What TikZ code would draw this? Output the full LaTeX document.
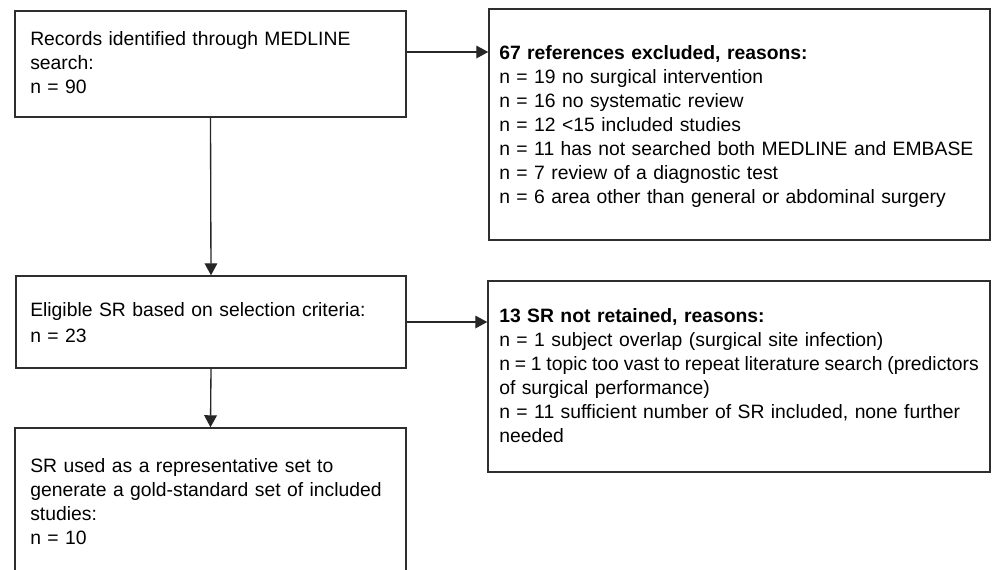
\documentclass[tikz,border=0pt]{standalone}
\usepackage{fontspec}
\setmainfont{Liberation Sans}
\usetikzlibrary{arrows.meta}
\begin{document}
\begin{tikzpicture}[x=0.75pt,y=-0.75pt,
  box/.style={draw=black!82, line width=1.1pt, rectangle, inner sep=0pt},
  txt/.style={anchor=base west, inner sep=0pt, text width=420pt, align=left,
    font=\fontsize{14.5pt}{18pt}\selectfont},
  arr/.style={draw=black!85, line width=1pt, -{Triangle[length=9pt,width=9.5pt]}}]
\useasboundingbox (0,0) rectangle (997,569);
\clip (0,0) rectangle (997,569);
% boxes
\node[box, minimum width=293.25pt, minimum height=79.5pt] (A) at (210.5,64) {};
\node[box, minimum width=375.75pt, minimum height=173.25pt] (B) at (739.5,124.5) {};
\node[box, minimum width=292.5pt, minimum height=69pt] (C) at (211,322) {};
\node[box, minimum width=376.5pt, minimum height=143.25pt] (D) at (739,376.5) {};
\node[box, minimum width=293.25pt, minimum height=150pt] (E) at (210.5,528) {};
% texts
\node[txt] (At) at (30,45) {Records identified through MEDLINE\\search:\\n = 90};
\node[txt] (Bt) at (499,59) {\textbf{67 references excluded, reasons:}\\
n = 19 no surgical intervention\\
n = 16 no systematic review\\
n = 12 <15 included studies\\
n = 11 has not searched both MEDLINE and EMBASE\\
n = 7 review of a diagnostic test\\
n = 6 area other than general or abdominal surgery};
\node[txt, font=\fontsize{14.5pt}{19.5pt}\selectfont] (Ct) at (30,316) {Eligible SR based on selection criteria:\\n = 23};
\node[txt] (Dt) at (499,322) {\textbf{13 SR not retained, reasons:}\\
n = 1 subject overlap (surgical site infection)\\
{\spaceskip=3.6pt n = 1 topic too vast to repeat literature search (predictors}\\
of surgical performance)\\
n = 11 sufficient number of SR included, none further\\
needed};
\node[txt] (Et) at (30,472) {SR used as a representative set to\\
generate a gold-standard set of included\\
studies:\\
n = 10};
% connectors
\coordinate (ab) at (450,52);
\draw[arr] (A.east |- ab) -- (B.west |- ab);
\draw[arr] (A.south) -- (C.north);
\draw[arr] (C.east) -- (D.west |- C.east);
\draw[arr] (C.south) -- (E.north);
\end{tikzpicture}
\end{document}
